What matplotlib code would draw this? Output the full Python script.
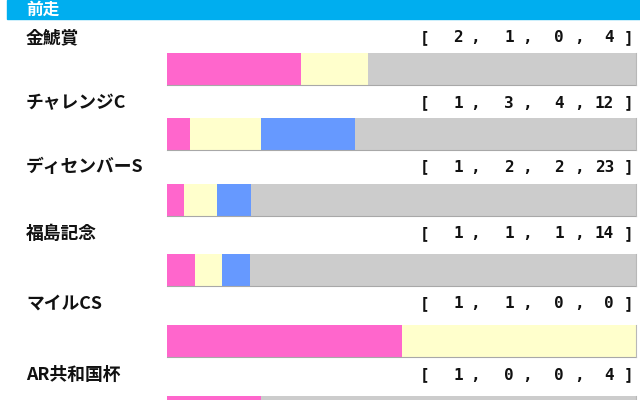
import matplotlib
matplotlib.use("Agg")
import matplotlib.pyplot as plt
from matplotlib.patches import Rectangle

plt.rcParams['font.family'] = ['Noto Sans CJK JP', 'DejaVu Sans']

header = "前走"
races = ["金鯱賞", "チャレンジC", "ディセンバーS", "福島記念", "マイルCS", "AR共和国杯"]
first = [2, 1, 1, 1, 1, 1]
second = [1, 3, 2, 1, 1, 0]
third = [0, 4, 2, 1, 0, 0]
other = [4, 12, 23, 14, 0, 4]

colors = ["#FF66CC", "#FFFFCC", "#6699FF", "#CCCCCC"]

# layout (pixels)
W, H = 640, 400
bar_tops = [53, 118, 184, 254, 325, 396]
bar_h = 32
label_y = [38, 103, 167, 234, 304, 375]
bar_left, bar_right = 167, 636

fig = plt.figure(figsize=(W / 100, H / 100), dpi=100)
fig.patch.set_facecolor("white")

# header
fig.patches.append(Rectangle((7 / W, 1 - 19 / H), 1 - 7 / W, 19 / H,
                             transform=fig.transFigure, color="#00AEEF", zorder=0))
fig.text(26 / W, 1 - 9.5 / H, header, color="white", fontsize=12, fontweight="bold",
         va="center", ha="left")

ax = fig.add_axes([bar_left / W, 0, (bar_right - bar_left) / W, 1])
ax.set_xlim(0, 1)
ax.set_ylim(H, 0)
ax.axis("off")

for i, name in enumerate(races):
    vals = [first[i], second[i], third[i], other[i]]
    tot = sum(vals)
    left = 0.0
    yc = bar_tops[i] + bar_h / 2
    for v, c in zip(vals, colors):
        if v == 0:
            continue
        frac = v / tot
        ax.barh(yc, frac, left=left, height=bar_h, color=c, edgecolor="none", clip_on=False)
        left += frac
    # subtle shadow at bottom/right of bar
    ax.plot([0, 1], [bar_tops[i] + bar_h, bar_tops[i] + bar_h], color="#A8A8A8",
            lw=0.8, clip_on=False)
    ax.plot([1, 1], [bar_tops[i], bar_tops[i] + bar_h], color="#B8B8B8",
            lw=0.8, clip_on=False)

    ty = 1 - label_y[i] / H
    fig.text(26 / W, ty, name, fontsize=12.8, fontweight="bold", va="center", ha="left",
             color="#111111")
    mono = dict(fontsize=11.5, fontweight="bold", va="center", color="#111111",
                family="DejaVu Sans Mono")
    fig.text(420 / W, ty, "[", ha="left", **mono)
    num_right = [463, 514, 564, 614]
    comma_x = [470, 522, 574]
    for j, v in enumerate(vals):
        fig.text(num_right[j] / W, ty, str(v), ha="right", **mono)
    for cx in comma_x:
        fig.text(cx / W, ty, ",", ha="left", **mono)
    fig.text(624 / W, ty, "]", ha="left", **mono)

fig.savefig("out.png", dpi=100)
